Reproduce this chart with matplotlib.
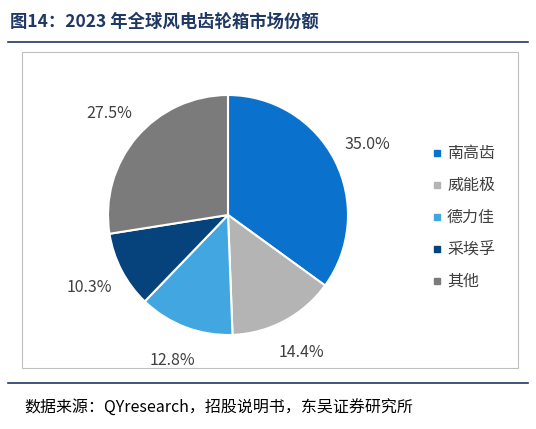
import matplotlib.pyplot as plt
from matplotlib.patches import Rectangle

plt.rcParams['font.family'] = ['Noto Sans CJK SC', 'DejaVu Sans']

companies = ["南高齿", "威能极", "德力佳", "采埃孚", "其他"]
shares = [35.0, 14.4, 12.8, 10.3, 27.5]
colors = ["#0A72CC", "#B4B4B4", "#42A6E0", "#06437C", "#7B7B7B"]

W, H = 536, 429
fig = plt.figure(figsize=(W / 100, H / 100), dpi=100)

# frame / title / source in pixel coordinates
bg = fig.add_axes([0, 0, 1, 1])
bg.set_xlim(0, W)
bg.set_ylim(H, 0)
bg.axis("off")
bg.text(10, 22, "图14：2023 年全球风电齿轮箱市场份额", fontsize=12.5, fontweight="bold",
        color="#1F3864", va="center")
bg.plot([8, 528], [42, 42], color="#1F3864", lw=1.2)
bg.add_patch(Rectangle((22, 52), 496, 316, fill=False, ec="#BFBFBF", lw=0.8))
bg.plot([8, 528], [383, 383], color="#1F3864", lw=1.2)
bg.text(24, 408, "数据来源：QYresearch，招股说明书，东吴证券研究所", fontsize=11.5,
        color="black", va="center")

ax = fig.add_axes([(228 - 150) / W, 1 - (215 + 150) / H, 300 / W, 300 / H])
wedges, texts, autotexts = ax.pie(
    shares, colors=colors, startangle=90, counterclock=False, radius=0.8,
    autopct="%.1f%%", pctdistance=1.3,
    wedgeprops=dict(edgecolor="white", linewidth=1.5),
    textprops=dict(fontsize=11.5, color="#404040"))
ax.set_xlim(-1, 1)
ax.set_ylim(-1, 1)
ax.set_aspect("equal")

for i, (name, c) in enumerate(zip(companies, colors)):
    y = 153 + i * 32
    bg.add_patch(Rectangle((434, y - 3), 6, 6, color=c))
    bg.text(447, y, name, fontsize=11.5, color="#404040", va="center")

fig.savefig("out.png", dpi=100)
